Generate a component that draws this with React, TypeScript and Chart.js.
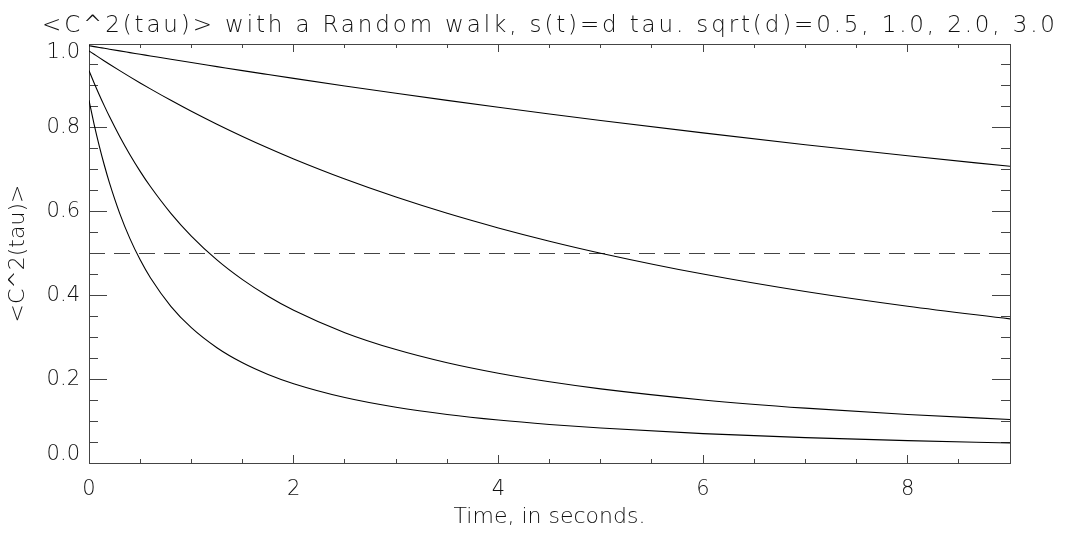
import React, { useEffect, useRef } from "react";
import { Chart, registerables } from "chart.js";

Chart.register(...registerables);

// Time axis samples (seconds) and <C^2(tau)> for each sqrt(d)
const TIME = [0, 0.05, 0.1, 0.15, 0.2, 0.3, 0.4, 0.5, 0.6, 0.8, 1, 1.25, 1.5, 1.75, 2, 2.5, 3, 3.5, 4, 4.5, 5, 6, 7, 8, 9];
const C2_SQRTD_05 = [0.9959, 0.9938, 0.9917, 0.9897, 0.9876, 0.9835, 0.9795, 0.9755, 0.9715, 0.9635, 0.9557, 0.9461, 0.9365, 0.9272, 0.918, 0.8999, 0.8824, 0.8655, 0.849, 0.833, 0.8175, 0.7878, 0.7597, 0.7332, 0.7081];
const C2_SQRTD_10 = [0.9835, 0.9755, 0.9675, 0.9596, 0.9518, 0.9365, 0.9216, 0.9071, 0.8929, 0.8655, 0.8393, 0.8084, 0.7792, 0.7516, 0.7255, 0.6776, 0.6346, 0.5959, 0.561, 0.5294, 0.5008, 0.4509, 0.4092, 0.374, 0.344];
const C2_SQRTD_20 = [0.9365, 0.9071, 0.879, 0.8523, 0.8267, 0.7792, 0.7358, 0.6961, 0.6598, 0.5959, 0.5417, 0.4848, 0.4377, 0.3981, 0.3645, 0.3111, 0.2707, 0.2392, 0.2142, 0.1938, 0.1769, 0.1505, 0.1309, 0.1158, 0.1039];
const C2_SQRTD_30 = [0.8655, 0.8084, 0.757, 0.7106, 0.6686, 0.5959, 0.5355, 0.4848, 0.442, 0.374, 0.323, 0.2752, 0.2392, 0.2114, 0.1893, 0.1563, 0.1331, 0.1158, 0.1025, 0.092, 0.0834, 0.0702, 0.0606, 0.0534, 0.0477];

// Half-level reference line
const HALF_LEVEL = 0.5;
const X_RANGE = [0, 9];
const Y_RANGE = [0, 1];
const X_MAJOR_STEP = 2;
const X_MINOR_STEP = 0.5;
const Y_MAJOR_STEP = 0.2;
const Y_MINOR_STEP = 0.05;

const TITLE = "<C^2(tau)> with a Random walk, s(t)=d tau. sqrt(d)=0.5, 1.0, 2.0, 3.0";
const X_TITLE = "Time, in seconds.";
const Y_TITLE = "<C^2(tau)>";

const FONT_FAMILY = "'DejaVu Sans', sans-serif";
const FONT_WEIGHT = 200;
const TEXT_COLOR = "#111";
const AXIS_COLOR = "#444";

const titlePlugin = {
  id: "plotTitle",
  afterDraw(chart: any) {
    const { ctx, chartArea } = chart;
    ctx.save();
    ctx.font = `${FONT_WEIGHT} 23px ${FONT_FAMILY}`;
    ctx.fillStyle = TEXT_COLOR;
    ctx.textAlign = "left";
    ctx.textBaseline = "alphabetic";
    const targetWidth = 1013;
    const plain = ctx.measureText(TITLE).width;
    const spacing = (targetWidth - plain) / (TITLE.length - 1);
    (ctx as any).letterSpacing = `${spacing}px`;
    const cx = (chartArea.left + chartArea.right) / 2;
    ctx.fillText(TITLE, cx - targetWidth / 2 - 1, 32);
    ctx.restore();
  },
};

function tickAxis(position: string, axis: "x" | "y", step: number, len: number, weight: number, size: number, border: boolean, extra: any = {}) {
  const range = axis === "x" ? X_RANGE : Y_RANGE;
  return {
    type: "linear",
    axis,
    position,
    min: range[0],
    max: range[1],
    weight,
    afterFit: (s: any) => {
      if (axis === "x") s.height = size;
      else s.width = size;
    },
    grid: {
      drawOnChartArea: false,
      drawTicks: true,
      tickLength: -len,
      color: AXIS_COLOR,
      tickColor: AXIS_COLOR,
      lineWidth: 1,
    },
    border: { display: border, color: AXIS_COLOR, width: 1 },
    ticks: { display: false, stepSize: step, includeBounds: false, autoSkip: false },
    ...extra,
  };
}

// End labels of the value axis sit just inside the box
function yLabel(v: number): string | string[] {
  const text = Number(v).toFixed(1);
  if (Math.abs(v - Y_RANGE[1]) < 1e-9) return ["", text];
  if (Math.abs(v - Y_RANGE[0]) < 1e-9) return [text, ""];
  return text;
}

export default function App() {
  const canvasRef = useRef<HTMLCanvasElement>(null);

  useEffect(() => {
    document.body.style.margin = "0";
    const ctx = canvasRef.current!.getContext("2d")!;
    const line = (vals: number[]) => ({
      data: TIME.map((t, i) => ({ x: t, y: vals[i] })),
      borderColor: "#000",
      borderWidth: 1.1,
      pointRadius: 0,
      fill: false,
      cubicInterpolationMode: "monotone" as const,
      xAxisID: "x",
      yAxisID: "y",
    });

    const xTickFont = { family: FONT_FAMILY, size: 21, weight: FONT_WEIGHT };
    const yTickFont = { family: FONT_FAMILY, size: 21, weight: FONT_WEIGHT, lineHeight: "17px" };
    const titleFont = { family: FONT_FAMILY, size: 22, weight: FONT_WEIGHT };

    const chart = new Chart(ctx, {
      type: "line",
      data: {
        datasets: [
          line(C2_SQRTD_05),
          line(C2_SQRTD_10),
          line(C2_SQRTD_20),
          line(C2_SQRTD_30),
          {
            data: X_RANGE.map((x) => ({ x, y: HALF_LEVEL })),
            borderColor: "#444",
            borderWidth: 1.1,
            borderDash: [16, 9],
            pointRadius: 0,
            fill: false,
            xAxisID: "x",
            yAxisID: "y",
          },
        ],
      },
      options: {
        animation: false,
        responsive: false,
        maintainAspectRatio: false,
        layout: { padding: 0 },
        plugins: { legend: { display: false }, tooltip: { enabled: false }, title: { display: false } },
        scales: {
          x: tickAxis("bottom", "x", X_MAJOR_STEP, 8, 1, 70, true, {
            ticks: {
              display: true,
              stepSize: X_MAJOR_STEP,
              includeBounds: false,
              autoSkip: false,
              maxRotation: 0,
              padding: 22,
              color: TEXT_COLOR,
              font: xTickFont,
              callback: (v: any) => String(v),
            },
            title: {
              display: true,
              text: X_TITLE,
              color: TEXT_COLOR,
              font: titleFont,
              padding: { top: 0, bottom: 3 },
            },
          }),
          xMinor: tickAxis("bottom", "x", X_MINOR_STEP, 4, 0, 0, false),
          xTop: tickAxis("top", "x", X_MAJOR_STEP, 8, 1, 43, true),
          xTopMinor: tickAxis("top", "x", X_MINOR_STEP, 4, 0, 0, false),
          y: tickAxis("left", "y", Y_MAJOR_STEP, 18, 1, 89, true, {
            ticks: {
              display: true,
              stepSize: Y_MAJOR_STEP,
              includeBounds: false,
              autoSkip: false,
              padding: 27,
              color: TEXT_COLOR,
              font: yTickFont,
              callback: (v: any) => yLabel(Number(v)),
            },
            title: {
              display: true,
              text: Y_TITLE,
              color: TEXT_COLOR,
              font: titleFont,
              padding: { top: 5, bottom: 0 },
            },
          }),
          yMinor: tickAxis("left", "y", Y_MINOR_STEP, 9, 0, 0, false),
          yRight: tickAxis("right", "y", Y_MAJOR_STEP, 18, 1, 56, true),
          yRightMinor: tickAxis("right", "y", Y_MINOR_STEP, 9, 0, 0, false),
        },
      } as any,
      plugins: [titlePlugin],
    });
    return () => chart.destroy();
  }, []);

  return (
    <div style={{ position: "fixed", left: 0, top: 0, width: 1066, height: 533, background: "#fff" }}>
      <canvas ref={canvasRef} width={1066} height={533} style={{ display: "block" }} />
    </div>
  );
}
